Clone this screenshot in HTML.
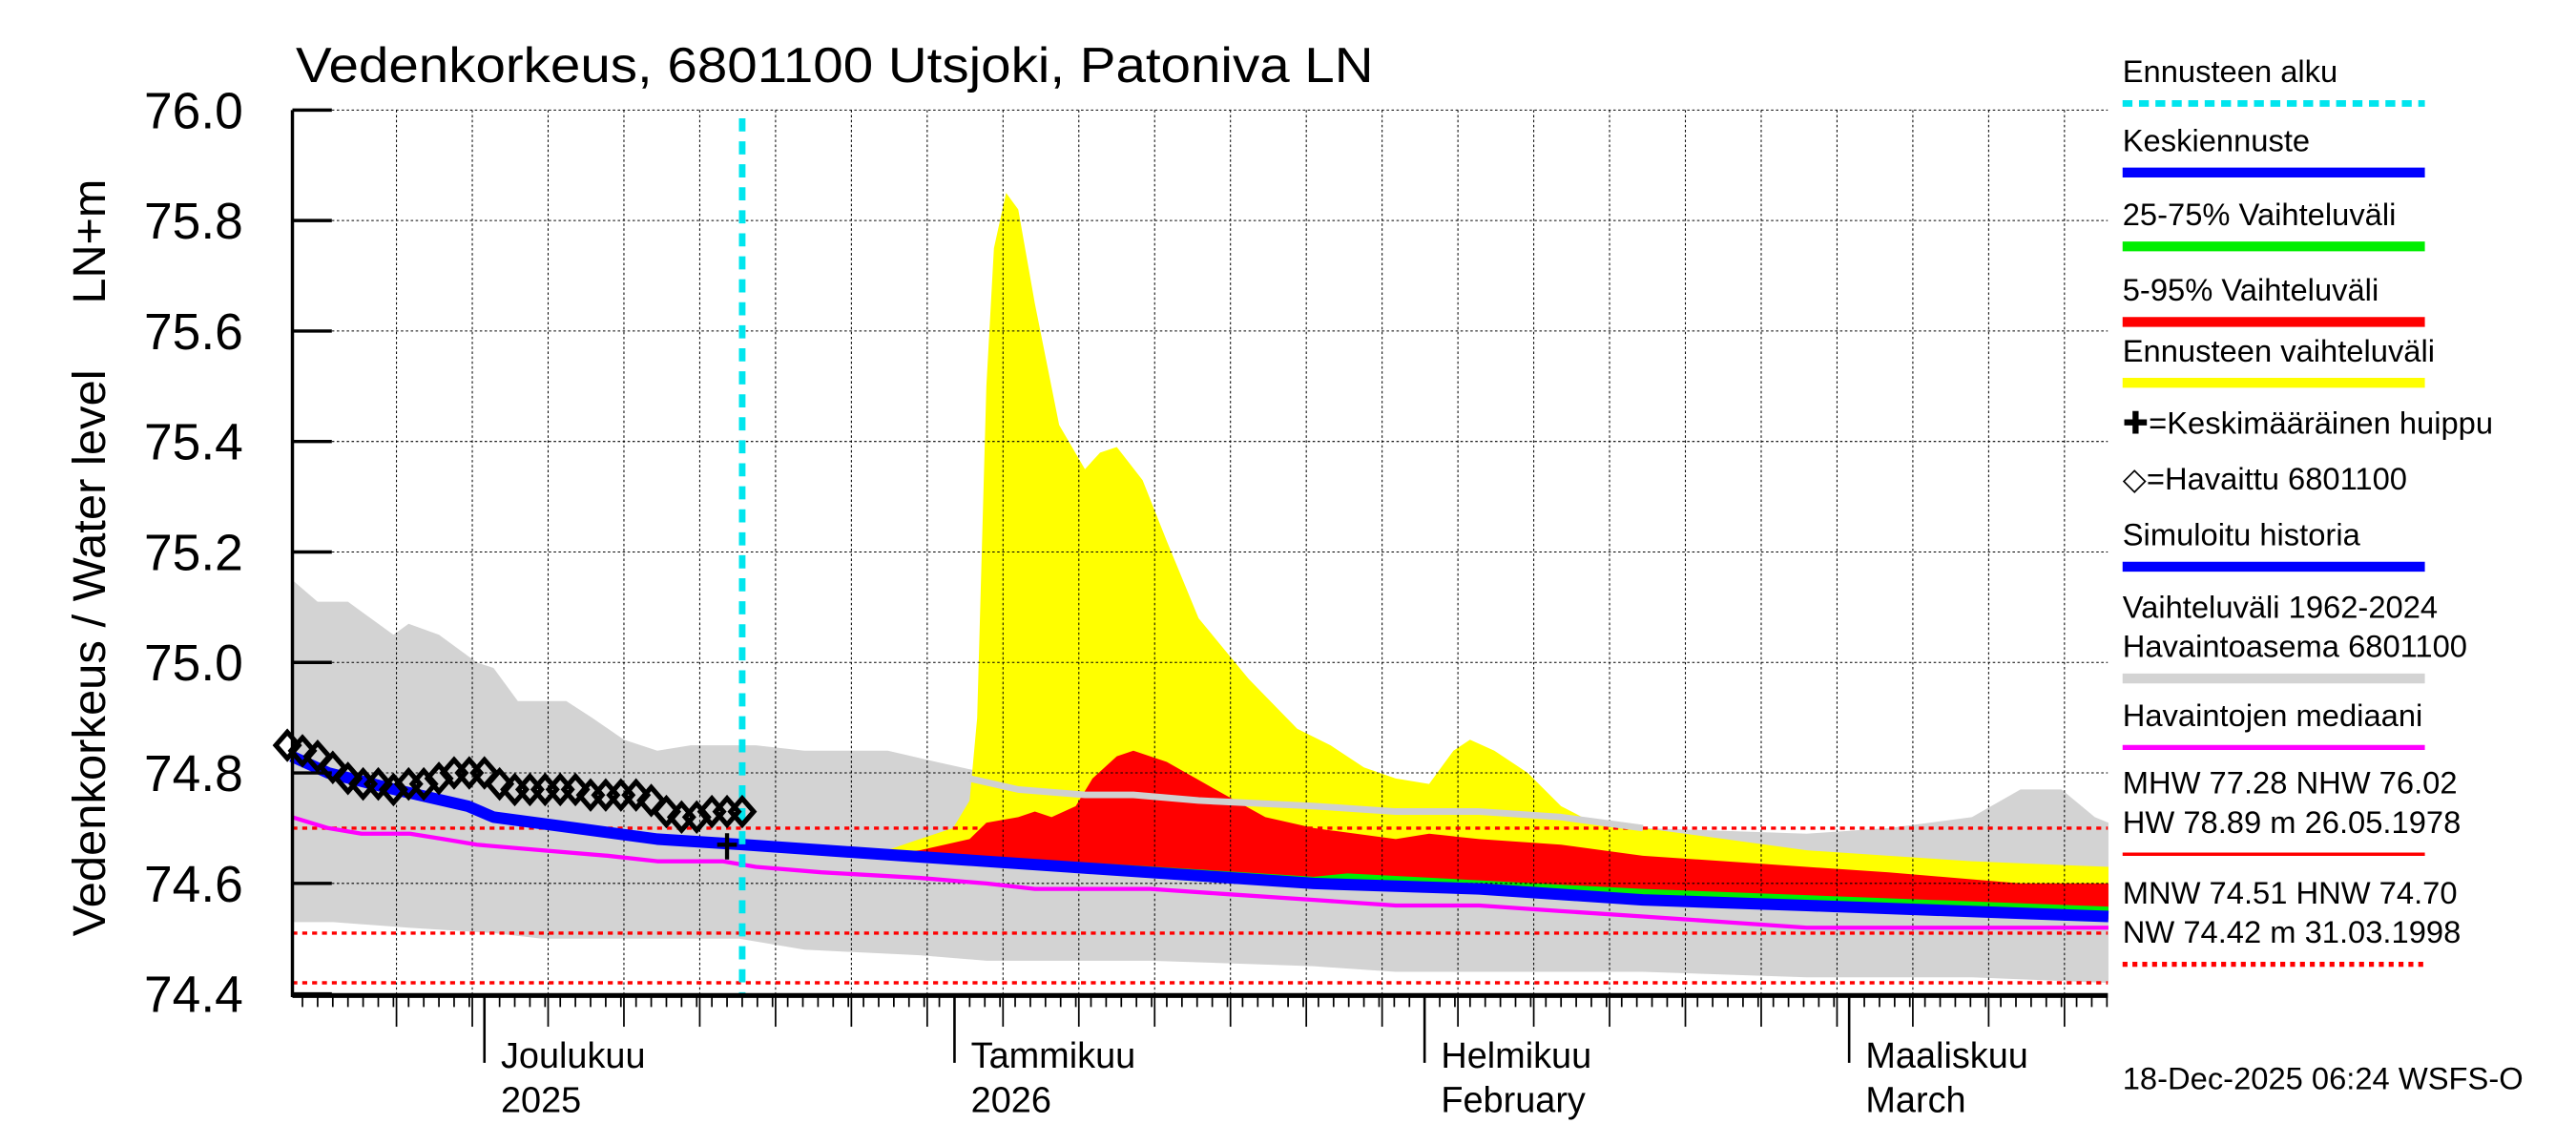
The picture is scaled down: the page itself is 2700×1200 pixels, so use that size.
<!DOCTYPE html>
<html><head><meta charset="utf-8">
<style>html,body{margin:0;padding:0;background:#fff;}svg{display:block;}text{font-family:"Liberation Sans",sans-serif;}</style>
</head><body>
<svg id="chart" width="2700" height="1200" viewBox="0 0 1568 697" preserveAspectRatio="none" xmlns="http://www.w3.org/2000/svg">
<rect x="0" y="0" width="1568" height="697" fill="#fff"/>
<g id="bands"></g>
<g id="grid"></g>
<g id="lines"></g>
<g id="axes"></g>
<text x="180" y="50" font-size="30" textLength="656" lengthAdjust="spacingAndGlyphs">Vedenkorkeus, 6801100 Utsjoki, Patoniva LN</text>
<text transform="translate(64,570) rotate(-90)" font-size="28" textLength="345" lengthAdjust="spacingAndGlyphs">Vedenkorkeus / Water level</text>
<text transform="translate(64,185) rotate(-90)" font-size="28" textLength="76" lengthAdjust="spacingAndGlyphs">LN+m</text>
<g id="legend"></g>
<text x="1292" y="663" font-size="19">18-Dec-2025 06:24 WSFS-O</text>
</svg>
<script>
const yTicks=[76.0,75.8,75.6,75.4,75.2,75.0,74.8,74.6,74.4];
const greyUpD=[-44,-42,-40,-37,-36,-34,-31.5,-30.4,-28.8,-25.6,-23.9,-21.8,-19.6,-17.4,-13.1,-9.9,-4.4,-1.2,2.1,12.9,23.7,34.6,45.4,56.2,61.6,67.1,70.3,73,75.2,76.1];
const greyUpV=[75.15,75.11,75.11,75.05,75.07,75.05,75.0,74.99,74.93,74.93,74.9,74.86,74.84,74.85,74.85,74.84,74.84,74.82,74.8,74.78,74.75,74.73,74.7,74.69,74.7,74.72,74.77,74.77,74.72,74.71];
const greyLoD=[-44,-41,-36,-30.4,-27.2,-23.9,-19.6,-14.2,-9.9,-2.3,2.1,12.9,23.7,29.1,34.6,45.4,56.2,67.1,76.1];
const greyLoV=[74.53,74.53,74.52,74.51,74.5,74.5,74.5,74.5,74.48,74.47,74.46,74.46,74.45,74.44,74.44,74.44,74.43,74.43,74.42];
const yelD=[-5.5,-2.3,-0.1,1,1.5,2.1,2.6,3.4,4.2,5.3,6.9,8.6,9.6,10.7,12.4,14,16.1,19.4,22.6,24.8,27,29.1,31.3,32.9,34,35.6,37.8,40,42.1,45.4,50.8,56.2,61.6,67.1,76.1];
const yelV=[74.65,74.68,74.7,74.75,74.9,75.5,75.75,75.85,75.82,75.65,75.43,75.35,75.38,75.39,75.33,75.22,75.08,74.97,74.88,74.85,74.81,74.79,74.78,74.84,74.86,74.84,74.8,74.74,74.71,74.7,74.68,74.66,74.65,74.64,74.63];
const redD=[-5.5,-2.3,1,2.1,4.2,5.3,6.4,8,9.1,10.7,11.8,14,17.2,20.5,23.7,29.1,31.3,34.6,40,45.4,50.8,56.2,61.6,70.3,72.5,76.1];
const redV=[74.65,74.66,74.68,74.71,74.72,74.73,74.72,74.74,74.79,74.83,74.84,74.82,74.77,74.72,74.7,74.68,74.69,74.68,74.67,74.65,74.64,74.63,74.62,74.6,74.6,74.6];
const greenD=[7.5,23.7,25.9,45.4,76.1];
const greenV=[74.64,74.612,74.618,74.59,74.558];
const blueD=[-44,-41.3,-36.9,-32.1,-30.4,-25,-19.6,-13.9,-3.4,7.5,23.7,34.6,45.4,56.2,76.1];
const blueV=[74.83,74.8,74.77,74.74,74.72,74.7,74.68,74.67,74.65,74.63,74.6,74.59,74.57,74.56,74.54];
const simD=[1,4.2,8.6,11.8,16.1,23.7,29.1,34.6,40,45.4];
const simV=[74.79,74.77,74.76,74.76,74.75,74.74,74.73,74.73,74.72,74.7];
const medD=[-44,-41.3,-39.1,-35.9,-33.7,-31.5,-27.2,-22.9,-19.6,-15.3,-13.1,-8.8,-2.3,2.1,5.3,12.9,18.3,23.7,29.1,34.6,40,45.4,50.8,56.2,61.6,67.1,76.1];
const medV=[74.72,74.7,74.69,74.69,74.68,74.67,74.66,74.65,74.64,74.64,74.63,74.62,74.61,74.6,74.59,74.59,74.58,74.57,74.56,74.56,74.55,74.54,74.53,74.52,74.52,74.52,74.52];
const obsD=[-44,-43,-42,-41,-40,-39,-38,-37,-36,-35,-34,-33,-32,-31,-30,-29,-28,-27,-26,-25,-24,-23,-22,-21,-20,-19,-18,-17,-16,-15,-14];
const obsV=[74.85,74.84,74.83,74.81,74.79,74.78,74.78,74.77,74.78,74.78,74.79,74.8,74.8,74.8,74.78,74.77,74.77,74.77,74.77,74.77,74.76,74.76,74.76,74.76,74.75,74.73,74.72,74.72,74.73,74.73,74.73];
const refLines=[74.70,74.51,74.42];
const forecastStart=-14;
const peakD=-15, peakV=74.67;
const months=[{d:-31,a:"Joulukuu",b:"2025"},{d:0,a:"Tammikuu",b:"2026"},{d:31,a:"Helmikuu",b:"February"},{d:59,a:"Maaliskuu",b:"March"}];

const X0=581,PX=9.23,L=178,R=1283,T=67,B=605;
function xD(d){return X0+d*PX;}
function yV(v){return T+(76-v)*336.25;}
function interp(D,V,d){if(d<=D[0])return V[0];for(let i=1;i<D.length;i++){if(d<=D[i]){const f=(d-D[i-1])/(D[i]-D[i-1]);return V[i-1]+f*(V[i]-V[i-1]);}}return V[V.length-1];}
const NS="http://www.w3.org/2000/svg";
function mk(tag,attrs,parent){const e=document.createElementNS(NS,tag);for(const k in attrs)e.setAttribute(k,attrs[k]);parent.appendChild(e);return e;}
const bands=document.getElementById('bands'),grid=document.getElementById('grid'),lines=document.getElementById('lines'),axes=document.getElementById('axes'),legend=document.getElementById('legend');
function pts(D,V){return D.map((d,i)=>xD(Math.min(Math.max(d,-43.7),76.1)).toFixed(1)+','+yV(V[i]).toFixed(1));}
function band(upD,upV,loD,loV,fill,name){
 const p=pts(upD,upV).concat(pts(loD,loV).reverse());
 const e=mk('polygon',{points:p.join(' '),fill:fill},bands);
 
 
}
function bandOnBlue(upD,upV,off,fill,name){
 const loD=[upD[0]];blueD.forEach(d=>{if(d>upD[0]&&d<upD[upD.length-1])loD.push(d);});loD.push(upD[upD.length-1]);
 const loV=loD.map(d=>interp(blueD,blueV,d)-off);
 band(upD,upV,loD,loV,fill,name);
}
band(greyUpD,greyUpV,greyLoD,greyLoV,'#d3d3d3','history-range-band');
bandOnBlue(yelD,yelV,0.006,'#ffff00','forecast-range-band');
bandOnBlue(redD,redV,0.005,'#ff0000','range-5-95-band');
bandOnBlue(greenD,greenV,0,'#00ee00','range-25-75-band');
yTicks.forEach(v=>{const e=mk('line',{x1:L,x2:R,y1:yV(v),y2:yV(v),stroke:'#000','stroke-width':0.6,'stroke-dasharray':'1.5,1.5'},grid);
 });
for(let d=-36.8;d<76;d+=5){const e=mk('line',{x1:xD(d),x2:xD(d),y1:T,y2:B,stroke:'#000','stroke-width':0.6,'stroke-dasharray':'1.5,1.5'},grid);
 }
refLines.forEach(v=>{const e=mk('line',{x1:L,x2:R,y1:yV(v),y2:yV(v),stroke:'#ff0000','stroke-width':2,'stroke-dasharray':'3,3'},grid);
 });
function line(D,V,stroke,w,name){const e=mk('polyline',{points:pts(D,V).join(' '),fill:'none',stroke:stroke,'stroke-width':w,'stroke-linejoin':'round'},lines);
 }
line(simD,simV,'#d0d0d0',4,'simulated-upper-line');
line(medD,medV,'#ff00ff',2.5,'median-line');
line(blueD,blueV,'#0000ff',7,'mean-forecast-line');
let fs=mk('line',{x1:xD(forecastStart),x2:xD(forecastStart),y1:T+5,y2:B,stroke:'#00e5ee','stroke-width':4,'stroke-dasharray':'8,6'},lines);

obsD.forEach((d,i)=>{const x=xD(d),y=yV(obsV[i]);
 const e=mk('polygon',{points:`${x},${y-8} ${x+7},${y} ${x},${y+8} ${x-7},${y}`,fill:'none',stroke:'#000','stroke-width':3},lines);
 });
const pk=mk('path',{d:`M${xD(peakD)-6},${yV(peakV)}h12M${xD(peakD)},${yV(peakV)-7}v16`,stroke:'#000','stroke-width':2.5},lines);

mk('line',{x1:L,x2:L,y1:T,y2:B+2,stroke:'#000','stroke-width':2},axes);
mk('line',{x1:L,x2:R,y1:B+1,y2:B+1,stroke:'#000','stroke-width':3},axes);
yTicks.forEach(v=>{mk('line',{x1:L,x2:L+24,y1:yV(v),y2:yV(v),stroke:'#000','stroke-width':2},axes);
 const t=mk('text',{x:148,y:yV(v)+11,'font-size':31,'text-anchor':'end'},axes);t.textContent=v.toFixed(1);
 });
for(let d=-43;d<=76;d++){mk('line',{x1:xD(d),x2:xD(d),y1:B,y2:B+8,stroke:'#000','stroke-width':1},axes);}
for(let d=-36.8;d<76;d+=5){mk('line',{x1:xD(d),x2:xD(d),y1:B,y2:B+20,stroke:'#000','stroke-width':1},axes);}
months.forEach(m=>{mk('line',{x1:xD(m.d),x2:xD(m.d),y1:B,y2:B+42,stroke:'#000','stroke-width':1.5},axes);
 const t=mk('text',{x:xD(m.d)+10,y:B+45,'font-size':22},axes);t.textContent=m.a;
 
 const t2=mk('text',{x:xD(m.d)+10,y:B+72,'font-size':22},axes);t2.textContent=m.b;
 });
const legItems=[
 {t:["Ennusteen alku"],y:50,c:'#00e5ee',dash:'6,4',w:4},
 {t:["Keskiennuste"],y:92,c:'#0000ff',w:6},
 {t:["25-75% Vaihteluväli"],y:137,c:'#00ee00',w:6},
 {t:["5-95% Vaihteluväli"],y:183,c:'#ff0000',w:6},
 {t:["Ennusteen vaihteluväli"],y:220,c:'#ffff00',w:6},
 {t:["✚=Keskimääräinen huippu"],y:264},
 {t:["◇=Havaittu 6801100"],y:298},
 {t:["Simuloitu historia"],y:332,c:'#0000ff',w:6},
 {t:["Vaihteluväli 1962-2024","Havaintoasema 6801100"],y:376,c:'#d3d3d3',w:6},
 {t:["Havaintojen mediaani"],y:442,c:'#ff00ff',w:3},
 {t:["MHW  77.28 NHW  76.02","HW  78.89 m 26.05.1978"],y:483,c:'#ff0000',w:2},
 {t:["MNW  74.51 HNW  74.70","NW  74.42 m 31.03.1998"],y:550,c:'#ff0000',w:3,dash:'3,3'}];
legItems.forEach(it=>{
 it.t.forEach((s,i)=>{const t=mk('text',{x:1292,y:it.y+i*24,'font-size':19},legend);t.textContent=s;
  });
 if(it.c){const ly=it.y+it.t.length*24-11;const a={x1:1292,x2:1476,y1:ly,y2:ly,stroke:it.c,'stroke-width':it.w};if(it.dash)a['stroke-dasharray']=it.dash;
  const e=mk('line',a,legend);}
});
</script>
</body></html>
